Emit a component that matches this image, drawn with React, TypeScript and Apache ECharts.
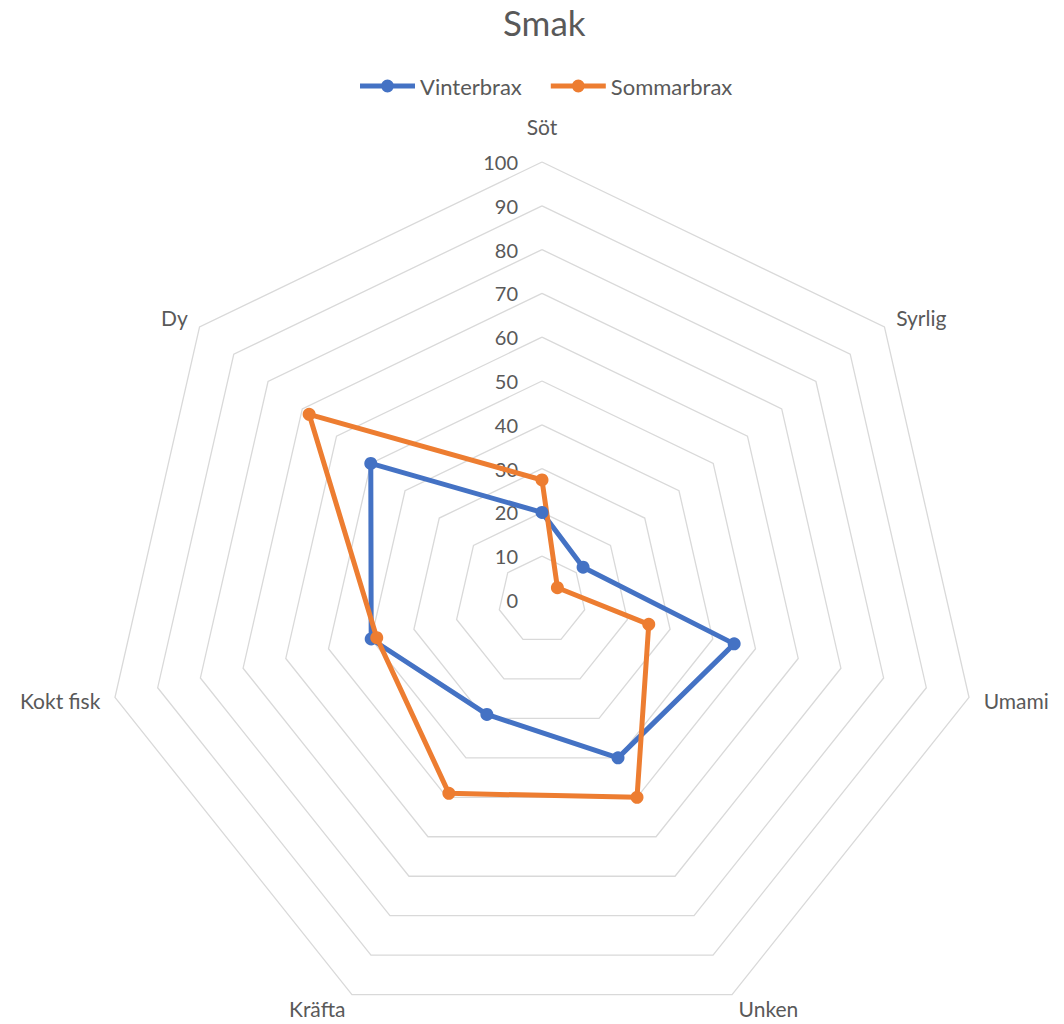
import React, { useEffect, useRef } from "react";
import * as echarts from "echarts";

const categories = ["Söt", "Syrlig", "Umami", "Unken", "Kräfta", "Kokt fisk", "Dy"];
const vinterbrax = [20, 12, 45, 40, 29, 40, 50];
const sommarbrax = [27.4, 4.5, 25, 50, 49, 38.7, 68];
const seriesNames = ["Vinterbrax", "Sommarbrax"];
const axisMin = 0;
const axisMax = 100;
const axisSteps = 10;

const TEXT = "#595959";
const FONT = "Lato";
const BLUE = "#4472C4";
const ORANGE = "#ED7D31";

// clockwise order: first category at top, then go clockwise (ECharts radar runs counter-clockwise)
const order = categories.map((_, i) => (i === 0 ? 0 : categories.length - i));
const reorder = (arr: number[]) => order.map((k) => arr[k]);

const legendIcon =
  "path://M0,4.5 H55 V9.5 H0 Z M34,7 A6.5,6.5 0 1,1 21,7 A6.5,6.5 0 1,1 34,7 Z";

export default function App() {
  const ref = useRef<HTMLDivElement>(null);
  useEffect(() => {
    const chart = echarts.init(ref.current!, null, { renderer: "svg" });
    chart.setOption({
      animation: false,
      backgroundColor: "#ffffff",
      title: {
        text: "Smak",
        left: 503,
        top: 4,
        padding: 0,
        textStyle: { color: TEXT, fontFamily: FONT, fontSize: 35, fontWeight: "normal" },
      },
      legend: {
        top: 70,
        left: 355,
        itemWidth: 55,
        itemHeight: 14,
        itemGap: 29,
        textStyle: { color: TEXT, fontFamily: FONT, fontSize: 22 },
        data: [
          { name: seriesNames[0], icon: legendIcon, itemStyle: { color: BLUE } },
          { name: seriesNames[1], icon: legendIcon, itemStyle: { color: ORANGE } },
        ],
      },
      radar: {
        center: [542, 600],
        radius: 438,
        shape: "polygon",
        splitNumber: axisSteps,
        startAngle: 90,
        nameGap: 15,
        axisName: { color: TEXT, fontFamily: FONT, fontSize: 21 },
        indicator: order.map((k, i) => ({
          name: categories[k],
          min: axisMin,
          max: axisMax,
          nameGap: i === 0 ? 25 : 15,
          axisLabel: {
            show: i === 0,
            color: TEXT,
            fontFamily: FONT,
            fontSize: 20,
            margin: 24,
          },
        })),
        axisLine: { show: false },
        axisTick: { show: false },
        splitArea: { show: false },
        splitLine: { lineStyle: { color: "#d9d9d9", width: 1.3 } },
      },
      series: [
        {
          type: "radar",
          symbol: "circle",
          symbolSize: 13,
          data: [
            {
              name: seriesNames[0],
              value: reorder(vinterbrax),
              itemStyle: { color: BLUE },
              lineStyle: { color: BLUE, width: 5, join: "round" },
            },
            {
              name: seriesNames[1],
              value: reorder(sommarbrax),
              itemStyle: { color: ORANGE },
              lineStyle: { color: ORANGE, width: 5, join: "round" },
            },
          ],
        },
      ],
    });
    return () => chart.dispose();
  }, []);
  return (
    <div
      ref={ref}
      style={{ position: "fixed", left: 0, top: 0, width: 1064, height: 1024 }}
    />
  );
}
